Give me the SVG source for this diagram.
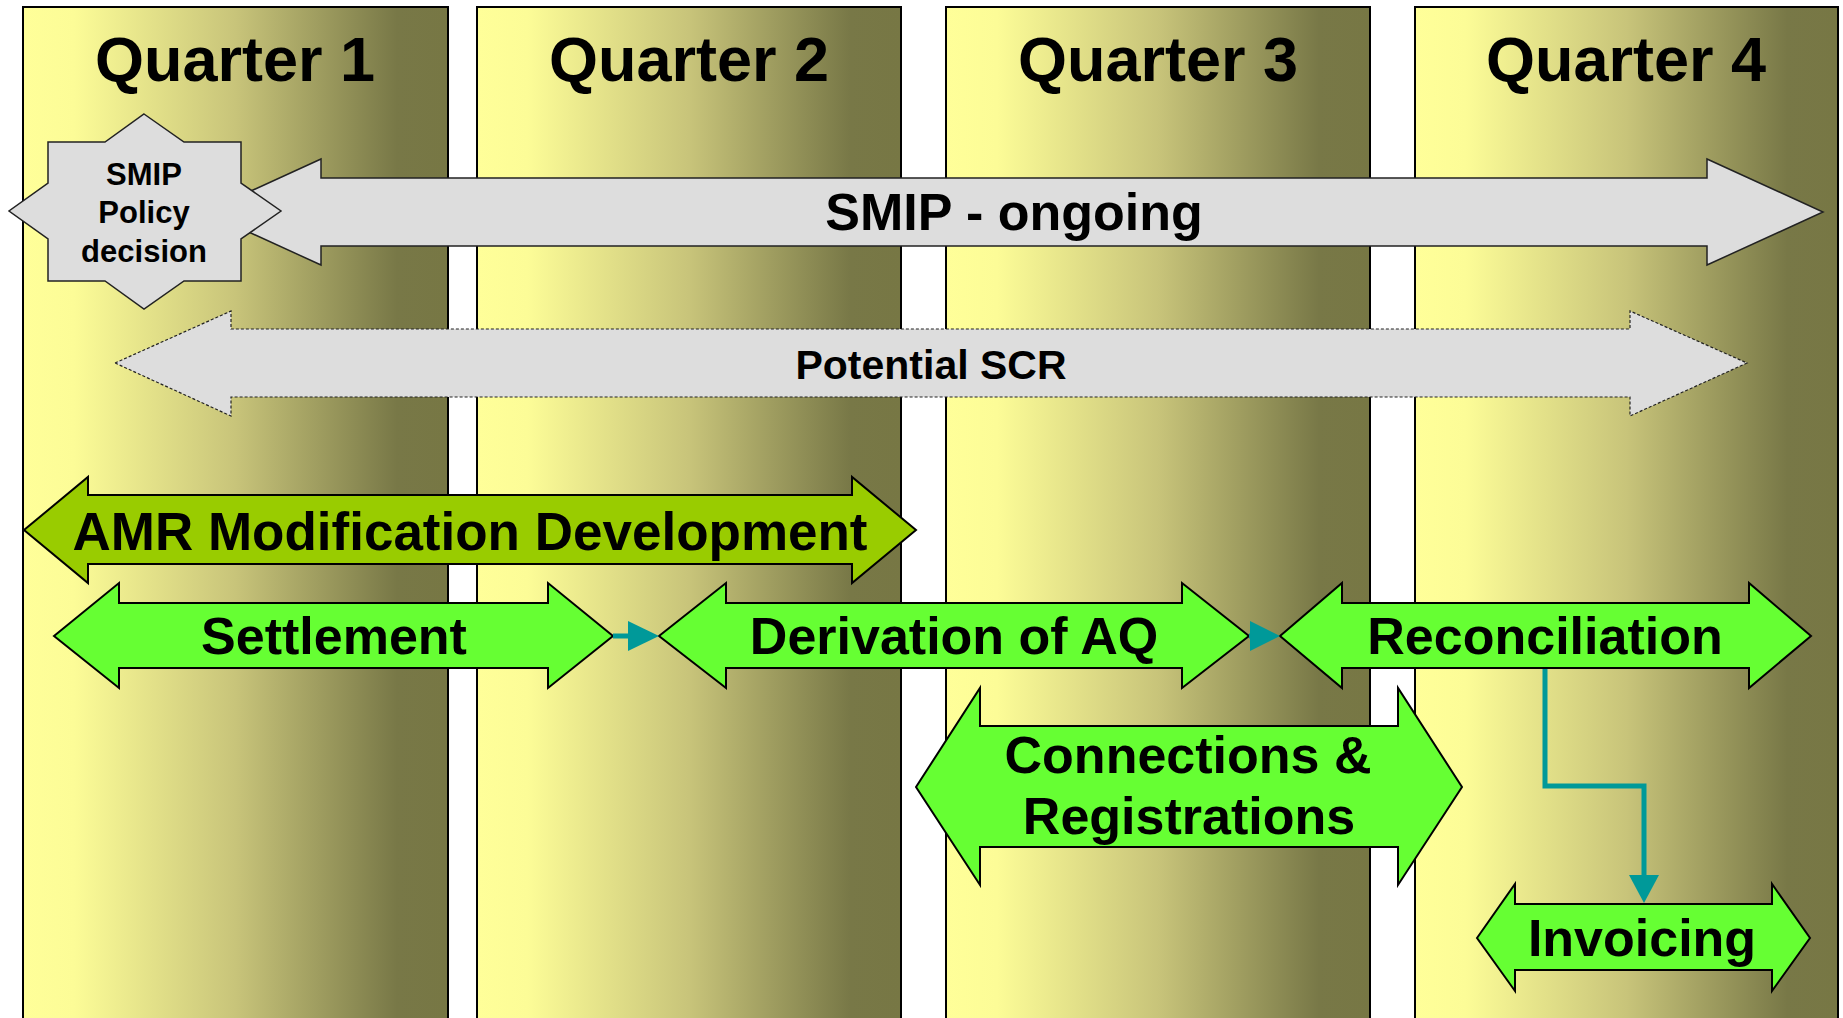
<svg xmlns="http://www.w3.org/2000/svg" width="1843" height="1018" viewBox="0 0 1843 1018">
<style>
.col{fill:url(#colgrad);stroke:#000;stroke-width:2}
.gray{fill:#DDDDDD;stroke:#222;stroke-width:1.5}
.dash{fill:#DDDDDD;stroke:#222;stroke-width:1.2;stroke-dasharray:3 2}
.green{fill:#66FF33;stroke:#000;stroke-width:2}
.olive{fill:#99CC00;stroke:#000;stroke-width:2}
.t{font-family:"Liberation Sans",Arial,Helvetica,sans-serif;font-weight:bold;fill:#000;text-anchor:middle}
.conn{fill:none;stroke:#009999;stroke-width:5}
.head{fill:#009999;stroke:none}
</style>
<defs>
<linearGradient id="colgrad" x1="0" y1="0" x2="1" y2="0">
<stop offset="0" stop-color="#FFFF99"/>
<stop offset="0.12" stop-color="#FCFC97"/>
<stop offset="0.5" stop-color="#C8C47A"/>
<stop offset="0.88" stop-color="#787847"/>
<stop offset="1" stop-color="#777744"/>
</linearGradient>
</defs>
<rect width="1843" height="1018" fill="#fff"/>
<g id="quarter1"><rect class="col" x="23" y="7" width="425" height="1030"/><text class="t" x="235" y="81" font-size="63">Quarter 1</text></g>
<g id="quarter2"><rect class="col" x="477" y="7" width="424" height="1030"/><text class="t" x="689" y="81" font-size="63">Quarter 2</text></g>
<g id="quarter3"><rect class="col" x="946" y="7" width="424" height="1030"/><text class="t" x="1158" y="81" font-size="63">Quarter 3</text></g>
<g id="quarter4"><rect class="col" x="1415" y="7" width="423" height="1030"/><text class="t" x="1626" y="81" font-size="63">Quarter 4</text></g>

<g id="smip-ongoing">
<polygon class="gray" points="205,212 321,159 321,178 1707,178 1707,159 1823,212 1707,265 1707,246 321,246 321,265"/>
<text class="t" x="1014" y="230" font-size="52">SMIP - ongoing</text>
</g>
<g id="smip-policy">
<polygon class="gray" points="144,114 184,142 241,142 241,183 281,211 241,239 241,281 184,281 144,309 105,281 48,281 48,239 9,211 48,183 48,142 105,142"/>
<text class="t" x="144" y="185" font-size="31">SMIP</text>
<text class="t" x="144" y="223" font-size="31">Policy</text>
<text class="t" x="144" y="262" font-size="31">decision</text>
</g>
<g id="potential-scr">
<polygon class="dash" points="115,363 231,311 231,329 1630,329 1630,311 1747,363 1630,416 1630,397 231,397 231,416"/>
<text class="t" x="931" y="379" font-size="41">Potential SCR</text>
</g>
<g id="amr">
<polygon class="olive" points="24,530 88,477 88,495 852,495 852,477 916,530 852,583 852,564 88,564 88,583"/>
<text class="t" x="470" y="550" font-size="53">AMR Modification Development</text>
</g>
<g id="settlement">
<polygon class="green" points="54,636 119,583 119,603 548,603 548,583 613,636 548,688 548,668 119,668 119,688"/>
<text class="t" x="334" y="654" font-size="52">Settlement</text>
</g>
<g id="derivation">
<polygon class="green" points="659,636 726,583 726,603 1182,603 1182,583 1249,636 1182,688 1182,668 726,668 726,688"/>
<text class="t" x="954" y="654" font-size="52">Derivation of AQ</text>
</g>
<g id="reconciliation">
<polygon class="green" points="1280,636 1342,583 1342,603 1749,603 1749,583 1811,636 1749,688 1749,668 1342,668 1342,688"/>
<text class="t" x="1545" y="654" font-size="52">Reconciliation</text>
</g>
<g id="connections">
<polygon class="green" points="916,787 980,688 980,726 1398,726 1398,688 1462,787 1398,885 1398,847 980,847 980,885"/>
<text class="t" x="1188" y="773" font-size="52">Connections &amp;</text>
<text class="t" x="1189" y="834" font-size="52">Registrations</text>
</g>
<g id="invoicing">
<polygon class="green" points="1477,938 1515,884 1515,904 1772,904 1772,884 1810,938 1772,991 1772,970 1515,970 1515,991"/>
<text class="t" x="1642" y="956" font-size="52">Invoicing</text>
</g>

<g id="connectors">
<line class="conn" x1="613" y1="636" x2="630" y2="636"/>
<polygon class="head" points="628,621 659,636 628,651"/>
<line class="conn" x1="1249" y1="636" x2="1252" y2="636"/>
<polygon class="head" points="1250,621 1280,636 1250,651"/>
<path class="conn" d="M1545,669 V786 H1644 V877"/>
<polygon class="head" points="1629,875 1659,875 1644,903"/>
</g>
</svg>
